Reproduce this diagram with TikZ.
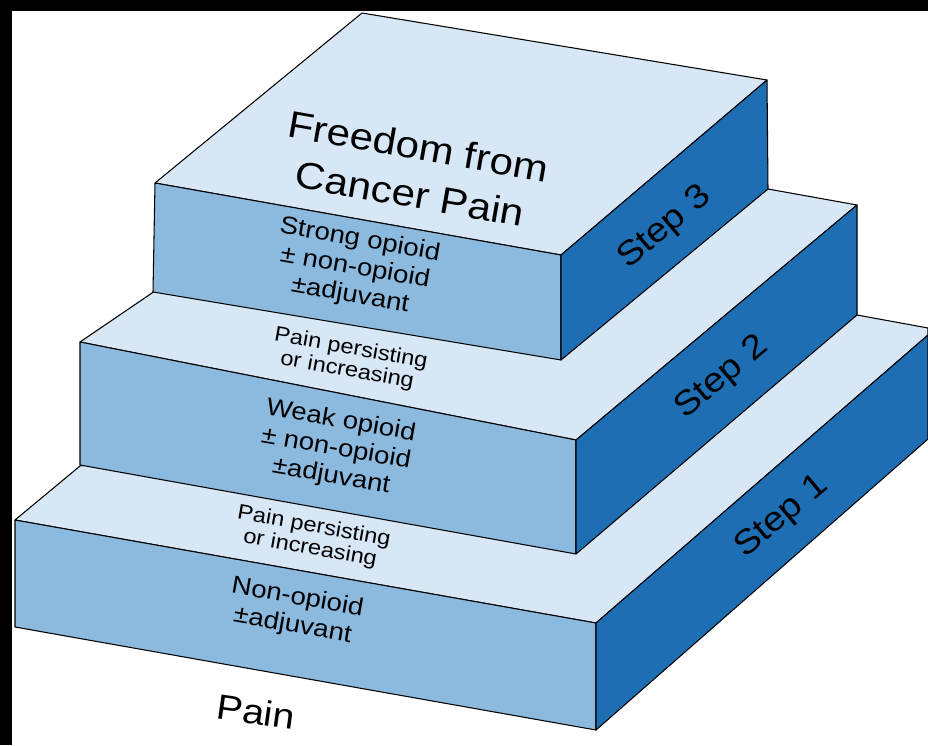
\documentclass[tikz,border=0pt]{standalone}
\usepackage{fontspec}
\setmainfont{Liberation Sans}[FakeStretch=1.12]
\definecolor{topc}{HTML}{D8E7F5}
\definecolor{frontc}{HTML}{8CBADF}
\definecolor{sidec}{HTML}{1D6EB3}
\begin{document}
\begin{tikzpicture}[x=0.3mm,y=-0.3mm,
  face/.style={draw=black,line width=0.9pt,line join=round},
  topface/.style={face,fill=topc},
  frontface/.style={face,fill=frontc},
  sideface/.style={face,fill=sidec},
  lbl/.style={inner sep=0pt,align=center,text=black},
  titlelbl/.style={lbl,font=\fontsize{32}{41}\selectfont},
  bodylbl/.style={lbl,font=\fontsize{21}{24}\selectfont},
  smalllbl/.style={lbl,font=\fontsize{18}{19}\selectfont},
  painlbl/.style={lbl,font=\fontsize{30}{34}\selectfont},
  steplbl/.style={lbl,font=\fontsize{29}{34}\selectfont}]
\useasboundingbox (0,0) rectangle (928,745);
\fill[white] (0,0) rectangle (928,745);
\fill[black] (0,0) rectangle (928,11);
\fill[black] (0,0) rectangle (12,745);
% Step 1
\path[topface] (15,520) -- (80,466) -- (300,420) -- (857,315) -- (928,328) -- (928,335) -- (596,623) -- cycle;
\path[frontface] (15,520) -- (596,623) -- (596,730) -- (15,627) -- cycle;
\path[sideface] (596,623) -- (928,335) -- (928,439) -- (596,730) -- cycle;
% Step 2
\path[topface] (80,342) -- (152,293) -- (300,190) -- (768,189) -- (857,205) -- (576,440) -- cycle;
\path[frontface] (80,342) -- (576,440) -- (576,554) -- (80,465) -- cycle;
\path[sideface] (576,440) -- (857,205) -- (857,315) -- (576,554) -- cycle;
% Step 3
\path[topface] (362,13) -- (767,80) -- (561,255) -- (155,183) -- cycle;
\path[frontface] (155,183) -- (561,255) -- (561,360) -- (153,292) -- cycle;
\path[sideface] (561,255) -- (767,80) -- (768,189) -- (561,360) -- cycle;
% Labels
\node[titlelbl,rotate=-10] (freedom) at (414,170) {Freedom from\\Cancer Pain};
\node[bodylbl,rotate=-10] (strong) at (355,268) {Strong opioid\\± non-opioid\\±adjuvant};
\node[smalllbl,rotate=-10] (persist2) at (349,360) {Pain persisting\\or increasing};
\node[bodylbl,rotate=-10] (weak) at (336,449) {Weak opioid\\± non-opioid\\±adjuvant};
\node[smalllbl,rotate=-10] (persist1) at (312,538) {Pain persisting\\or increasing};
\node[bodylbl,rotate=-10] (nonop) at (295,612) {Non-opioid\\±adjuvant};
\node[painlbl,rotate=-8] (pain) at (256,712) {Pain};
\node[steplbl,rotate=40] (step3) at (665,228) {Step 3};
\node[steplbl,rotate=40] (step2) at (722,378) {Step 2};
\node[steplbl,rotate=40] (step1) at (782,517) {Step 1};
\end{tikzpicture}
\end{document}
